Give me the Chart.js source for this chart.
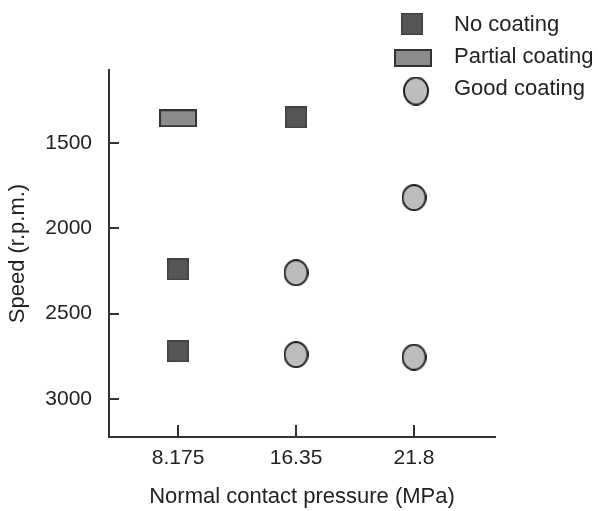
<!DOCTYPE html>
<html><head><meta charset="utf-8">
<script src="https://cdn.jsdelivr.net/npm/chart.js@4"></script>
<style>html,body{margin:0;padding:0;background:#fff}</style>
</head><body>
<canvas id="c" width="598" height="511"></canvas>
<script>
// ---- data ----
const categories = ['8.175', '16.35', '21.8'];          // Normal contact pressure (MPa)
const seriesNames = ['No coating', 'Partial coating', 'Good coating'];
// x = category index, y = speed (r.p.m.)
const noCoatingX = [0, 0, 1];
const noCoatingY = [2240, 2720, 1350];
const partialX = [0];
const partialY = [1355];
const goodX = [1, 1, 2, 2];
const goodY = [2260, 2740, 1820, 2755];
const yTicks = [1500, 2000, 2500, 3000];

// ---- marker images ----
function makeMarker(w, h, shape, fill, stroke, lw) {
  const c = document.createElement('canvas');
  c.width = w; c.height = h;
  const g = c.getContext('2d');
  g.fillStyle = fill; g.strokeStyle = stroke; g.lineWidth = lw;
  if (shape === 'rect') {
    g.fillRect(lw / 2, lw / 2, w - lw, h - lw);
    g.strokeRect(lw / 2, lw / 2, w - lw, h - lw);
  } else {
    g.beginPath();
    g.ellipse(w / 2, h / 2, w / 2 - lw / 2, h / 2 - lw / 2, 0, 0, Math.PI * 2);
    g.fill(); g.stroke();
  }
  return c;
}
const noImg = makeMarker(22, 22, 'rect', '#565656', '#404040', 1.5);
const partImg = makeMarker(38, 18, 'rect', '#8c8c8c', '#333333', 2);
const goodImg = makeMarker(25, 27, 'ellipse', '#bdbdbd', '#1e1e1e', 2);
const goodLegendImg = makeMarker(26, 29, 'ellipse', '#bdbdbd', '#1e1e1e', 2);

const toPts = (xs, ys) => xs.map((x, i) => ({ x: x, y: ys[i] }));

const FONT = '"Liberation Sans", Arial, Helvetica, sans-serif';
const TXT = '#222222';
const AX = '#333333';

const sideLegend = {
  id: 'sideLegend',
  afterDraw(chart, args, opts) {
    const ctx = chart.ctx;
    ctx.save();
    ctx.font = '22px ' + FONT;
    ctx.fillStyle = TXT;
    ctx.textBaseline = 'middle';
    ctx.textAlign = 'left';
    chart.data.datasets.forEach((ds, i) => {
      const img = (opts.images && opts.images[i]) || ds.pointStyle;
      ctx.drawImage(img, opts.markerX[i] - img.width / 2, opts.markerY[i] - img.height / 2);
      ctx.fillText(ds.label, opts.textX, opts.textY[i]);
    });
    ctx.restore();
  }
};

new Chart(document.getElementById('c'), {
  type: 'scatter',
  data: {
    datasets: [
      { label: seriesNames[0], data: toPts(noCoatingX, noCoatingY), pointStyle: noImg, pointRadius: 11 },
      { label: seriesNames[1], data: toPts(partialX, partialY), pointStyle: partImg, pointRadius: 11 },
      { label: seriesNames[2], data: toPts(goodX, goodY), pointStyle: goodImg, pointRadius: 12 }
    ]
  },
  options: {
    responsive: false,
    animation: false,
    layout: { padding: { top: 70, right: 103, left: 0, bottom: 0 } },
    plugins: {
      legend: { display: false },
      tooltip: { enabled: false },
      sideLegend: { markerX: [412, 413, 416], markerY: [24, 58, 91], textX: 454, textY: [25, 57, 89], images: [null, null, goodLegendImg] }
    },
    scales: {
      x: {
        type: 'linear',
        min: -0.585, max: 2.686,
        afterBuildTicks: s => { s.ticks = categories.map((_, i) => ({ value: i })); },
        afterFit: s => { s.height = 74; },
        ticks: { callback: v => categories[Math.round(v)], font: { family: FONT, size: 21 }, color: TXT, padding: 21, maxRotation: 0, autoSkip: false },
        grid: { drawOnChartArea: false, tickLength: -12, color: AX, lineWidth: 2 },
        border: { display: true, color: AX, width: 2 },
        title: { display: true, text: 'Normal contact pressure (MPa)', font: { family: FONT, size: 22 }, color: TXT, padding: { top: 0, bottom: 1 } }
      },
      y: {
        type: 'linear',
        reverse: true,
        min: 1072, max: 3223,
        afterBuildTicks: s => { s.ticks = yTicks.map(v => ({ value: v })); },
        afterFit: s => { s.width = 109; },
        ticks: { callback: v => String(v), font: { family: FONT, size: 21 }, color: TXT, padding: 27 },
        grid: { drawOnChartArea: false, tickLength: -10, color: AX, lineWidth: 2 },
        border: { display: true, color: AX, width: 2 },
        title: { display: true, text: 'Speed (r.p.m.)', font: { family: FONT, size: 22 }, color: TXT, padding: { top: 5, bottom: 0 } }
      }
    }
  },
  plugins: [sideLegend]
});
</script>
</body></html>
